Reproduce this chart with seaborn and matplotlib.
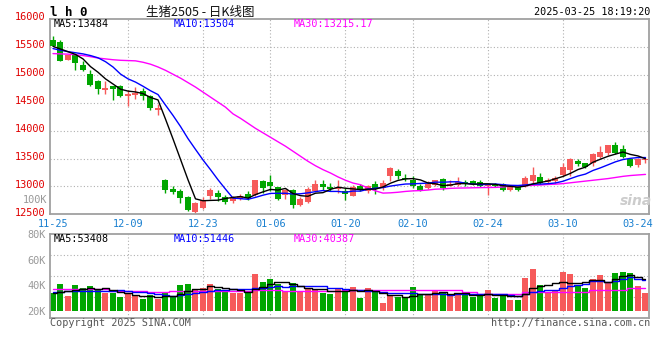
import numpy as np
import pandas as pd
import matplotlib
matplotlib.use("Agg")
import matplotlib.pyplot as plt
import seaborn as sns
from matplotlib.transforms import ScaledTranslation

# ---------------- data ----------------
opens = [15630, 15595, 15260, 15360, 15180, 15015, 14880, 14720, 14795, 14805,
         14615, 14645, 14715, 14625, 14375, 13120, 12960, 12925, 12805, 12550,
         12615, 12820, 12885, 12805, 12730, 12770, 12865, 12850, 13105, 13070,
         12995, 12850, 12940, 12665, 12725, 12925, 13050, 12990, 12955, 12910,
         12835, 13000, 12910, 13050, 12970, 13190, 13280, 13155, 13120, 13015,
         12970, 13030, 13135, 13015, 13030, 13070, 13090, 13070, 13015, 13050,
         13050, 12930, 12985, 13000, 13090, 13170, 13070, 13090, 13210, 13300,
         13460, 13420, 13420, 13525, 13600, 13745, 13670, 13490, 13390, 13465]
highs = [15700, 15615, 15360, 15360, 15240, 15080, 14910, 14880, 14805, 14820,
         14735, 14780, 14760, 14645, 14480, 13135, 13000, 12950, 12835, 12725,
         12815, 12970, 12930, 12840, 12835, 12870, 12910, 13120, 13120, 13210,
         12995, 12960, 12960, 12815, 12990, 13110, 13110, 13060, 13110, 12970,
         13030, 13050, 13030, 13090, 13110, 13345, 13315, 13230, 13190, 13050,
         13090, 13120, 13150, 13110, 13170, 13120, 13120, 13120, 13050, 13065,
         13060, 13010, 13000, 13180, 13350, 13240, 13150, 13180, 13420, 13510,
         13490, 13425, 13600, 13730, 13750, 13790, 13745, 13510, 13505, 13510]
lows = [15510, 15240, 15260, 15080, 15060, 14805, 14655, 14655, 14555, 14600,
        14435, 14565, 14545, 14365, 14285, 12890, 12860, 12705, 12555, 12525,
        12600, 12775, 12735, 12685, 12705, 12750, 12760, 12820, 12880, 12925,
        12760, 12775, 12605, 12655, 12705, 12910, 12940, 12910, 12880, 12760,
        12835, 12910, 12885, 12870, 12940, 13090, 13140, 13100, 12970, 12910,
        12955, 13000, 12930, 13000, 13015, 13015, 13030, 12990, 12850, 12995,
        12910, 12920, 12910, 12990, 13060, 13050, 13050, 13060, 13190, 13190,
        13370, 13335, 13370, 13510, 13570, 13585, 13510, 13350, 13355, 13420]
closes = [15510, 15255, 15360, 15210, 15090, 14820, 14750, 14765, 14750, 14625,
          14650, 14675, 14615, 14405, 14405, 12930, 12900, 12785, 12575, 12695,
          12760, 12930, 12805, 12725, 12795, 12835, 12790, 13120, 12970, 13015,
          12775, 12940, 12665, 12775, 12960, 13050, 12990, 12960, 12970, 12865,
          12990, 12930, 13000, 12970, 13060, 13325, 13180, 13135, 13000, 12940,
          13050, 13110, 12970, 13050, 13070, 13050, 13050, 13015, 13050, 13015,
          12930, 12995, 12940, 13150, 13210, 13060, 13120, 13150, 13350, 13490,
          13400, 13340, 13585, 13625, 13745, 13600, 13525, 13370, 13490, 13490]
volumes_k = [34.1, 40.9, 31.5, 40.1, 37.8, 39.3, 36.2, 33.6, 34.1, 30.5,
             33.1, 31.5, 28.9, 32.3, 28.9, 34.9, 30.9, 40.1, 40.9, 36.7,
             37.8, 40.9, 36.7, 35.4, 34.1, 34.1, 34.1, 48.7, 42.4, 44.8,
             40.9, 35.4, 41.7, 34.9, 37.0, 36.2, 34.1, 33.1, 37.5, 35.6,
             38.8, 30.2, 38.0, 35.4, 26.3, 31.5, 30.9, 30.5, 38.8, 32.3,
             33.1, 35.4, 34.1, 31.5, 34.1, 32.3, 30.9, 31.5, 36.2, 30.2,
             33.1, 28.4, 28.4, 45.8, 52.6, 40.1, 33.6, 35.4, 50.5, 48.7,
             40.1, 37.5, 44.8, 47.9, 42.7, 49.7, 50.5, 49.7, 39.6, 34.1]

# moving-average values at the start of the window (need days before the chart)
ma5_head = [15510, 15462, 15414, 15365]
ma10_head = [15470, 15440, 15415, 15395, 15375, 15345, 15305, 15235, 15140]
ma30 = [15380, 15375, 15370, 15360, 15345, 15325, 15300, 15285, 15270, 15260,
        15255, 15250, 15225, 15190, 15140, 15080, 15010, 14940, 14860, 14780,
        14690, 14600, 14510, 14420, 14300, 14220, 14130, 14040, 13960, 13880,
        13800, 13720, 13630, 13540, 13450, 13370, 13300, 13240, 13170, 13110,
        13060, 13030, 12970, 12920, 12880, 12885, 12895, 12910, 12920, 12925,
        12935, 12950, 12955, 12965, 12970, 12972, 12975, 12978, 12980, 12982,
        12990, 13005, 13010, 13015, 13020, 13025, 13035, 13040, 13050, 13065,
        13080, 13095, 13110, 13125, 13140, 13160, 13180, 13195, 13205, 13215]
vol_ma5_head = [33.6, 34.9, 35.6, 36.2]
vol_ma10_head = [35.0, 35.0, 35.2, 35.4, 35.6, 35.6, 35.8, 35.8, 35.8]
vol_ma30 = ([36.8] * 8 + [35.6] * 5 + [34.5] * 3 + [35.4] * 11 + [36.2] * 4 +
            [35.6] * 8 + [36.2] * 16 + [34.9] * 2 + [33.1] * 6 + [34.4] * 6 +
            [34.9] * 3 + [36.2] * 5 + [37.5] * 3)

tick_pos = [0, 10, 20, 29, 39, 48, 58, 68, 78]
tick_labels = ["11-25", "12-09", "12-23", "01-06", "01-20", "02-10", "02-24", "03-10", "03-24"]
price_ticks = [12500, 13000, 13500, 14000, 14500, 15000, 15500, 16000]
vol_ticks = [20, 40, 60, 80]
vol_tick_labels = ["20K", "40K", "60K", "80K"]

# ---------------- frame ----------------
n = len(closes)
df = pd.DataFrame({"day": np.arange(n), "open": opens, "high": highs, "low": lows,
                   "close": closes, "vol": volumes_k, "ma30": ma30, "vma30": vol_ma30})
df["ma5"] = df["close"].rolling(5).mean()
df.loc[:len(ma5_head) - 1, "ma5"] = ma5_head
df["ma10"] = df["close"].rolling(10).mean()
df.loc[:len(ma10_head) - 1, "ma10"] = ma10_head
df["vma5"] = df["vol"].rolling(5).mean()
df.loc[:len(vol_ma5_head) - 1, "vma5"] = vol_ma5_head
df["vma10"] = df["vol"].rolling(10).mean()
df.loc[:len(vol_ma10_head) - 1, "vma10"] = vol_ma10_head

RED = "#f65a5a"
GREEN = "#00a600"
up = df["close"] >= df["open"]
colors = np.where(up, RED, GREEN)

sns.set_theme(style="white")
plt.rcParams["font.family"] = ["DejaVu Sans Mono", "Noto Sans CJK SC"]

W, H = 660, 360
fig = plt.figure(figsize=(6.6, 3.6), dpi=100, facecolor="white")
ax = fig.add_axes([50 / W, 1 - 214.3 / H, 599 / W, 195.3 / H])
axv = fig.add_axes([50 / W, 1 - 318.3 / H, 599 / W, 84.3 / H])

FRAME = "#a0a0a0"
GRID = "#b0b0b0"
for a in (ax, axv):
    a.set_facecolor("white")
    for s in a.spines.values():
        s.set_color(FRAME)
        s.set_linewidth(1.3)
    a.set_xlim(-0.4, 79.47)
    for p in tick_pos[1:-1]:
        a.axvline(p, color=GRID, lw=0.8, ls=(0, (1, 2)), zorder=0)

# ---------------- price panel ----------------
ax.set_ylim(12500, 16000)
for v in price_ticks[1:-1]:
    ax.axhline(v, color=GRID, lw=0.8, ls=(0, (1, 2)), zorder=0)
ax.vlines(df["day"], df["low"], df["high"], colors=colors, lw=1.0, zorder=2)
body_bottom = np.minimum(df["open"], df["close"])
body_h = np.maximum(np.abs(df["close"] - df["open"]), 18)
ax.bar(df["day"], body_h, bottom=body_bottom, width=0.8, color=colors, linewidth=0, zorder=3)

sns.lineplot(data=df, x="day", y="ma30", color="#ff00ff", lw=1.0, ax=ax, zorder=4, legend=False)
sns.lineplot(data=df, x="day", y="ma10", color="#0000ff", lw=1.0, ax=ax, zorder=5, legend=False)
sns.lineplot(data=df, x="day", y="ma5", color="black", lw=1.0, ax=ax, zorder=6, legend=False)

ax.set_xlabel("")
ax.set_ylabel("")
ax.set_xticks(tick_pos)
ax.set_xticklabels(tick_labels, color="#1a80d0", fontsize=7.4)
ax.set_yticks(price_ticks)
ax.set_yticklabels([str(t) for t in price_ticks], color="#e00000", fontsize=7.4)
ax.tick_params(axis="both", length=0, pad=3)
ax.tick_params(axis="x", pad=3.5)
for lab in ax.get_yticklabels():
    lab.set_transform(lab.get_transform() + ScaledTranslation(0, 2.5 / 100, fig.dpi_scale_trans))

# ---------------- volume panel ----------------
vlo, vhi = 14.06, 80.0
axv.set_ylim(vlo, vhi)
for f in (0.25, 0.5, 0.75):
    axv.axhline(vlo + (vhi - vlo) * f, color=GRID, lw=0.8, ls=(0, (1, 2)), zorder=0)
axv.bar(df["day"], df["vol"] - 20, bottom=20, width=0.8, color=colors, linewidth=0, zorder=2)
sns.lineplot(data=df, x="day", y="vma30", color="#ff00ff", lw=1.0, ax=axv, zorder=4,
             legend=False, drawstyle="steps-mid")
sns.lineplot(data=df, x="day", y="vma10", color="#0000ff", lw=1.0, ax=axv, zorder=5,
             legend=False, drawstyle="steps-mid")
sns.lineplot(data=df, x="day", y="vma5", color="black", lw=1.0, ax=axv, zorder=6,
             legend=False, drawstyle="steps-mid")
axv.set_xlabel("")
axv.set_ylabel("")
axv.set_xticks(tick_pos)
axv.set_xticklabels([])
axv.set_yticks(vol_ticks)
axv.set_yticklabels(vol_tick_labels, color="#999999", fontsize=7.4)
axv.tick_params(axis="both", length=0, pad=3)

# ---------------- texts ----------------
def ft(x, y, s, **kw):
    kw.setdefault("fontsize", 7.3)
    kw.setdefault("va", "center")
    fig.text(x / W, 1 - y / H, s, **kw)

ft(50, 12, "l h 0", fontweight="bold", fontsize=9, color="black")
ft(200, 12, "生猪2505 - 日K线图", ha="center", fontsize=9, color="#111111",
   family=["Noto Sans CJK SC", "DejaVu Sans"])
ft(650, 12, "2025-03-25 18:19:20", ha="right", color="black")
ft(54, 24, "MA5:13484", color="black")
ft(174, 24, "MA10:13504", color="#0000ff")
ft(294, 24, "MA30:13215.17", color="#ff00ff")
ft(54, 238.5, "MA5:53408", color="black")
ft(174, 238.5, "MA10:51446", color="#0000ff")
ft(294, 238.5, "MA30:40387", color="#ff00ff")
ft(47, 200, "100K", ha="right", color="#999999", fontsize=7.4)
ft(50, 323.5, "Copyright 2025 SINA.COM", color="#555555")
ft(650, 323.5, "http://finance.sina.com.cn", ha="right", color="#555555")
ft(636, 201, "sina", ha="center", color="#cccccc", fontsize=10, fontweight="bold",
   fontstyle="italic", family=["DejaVu Sans"])

fig.savefig("out.png", dpi=100, facecolor="white")
